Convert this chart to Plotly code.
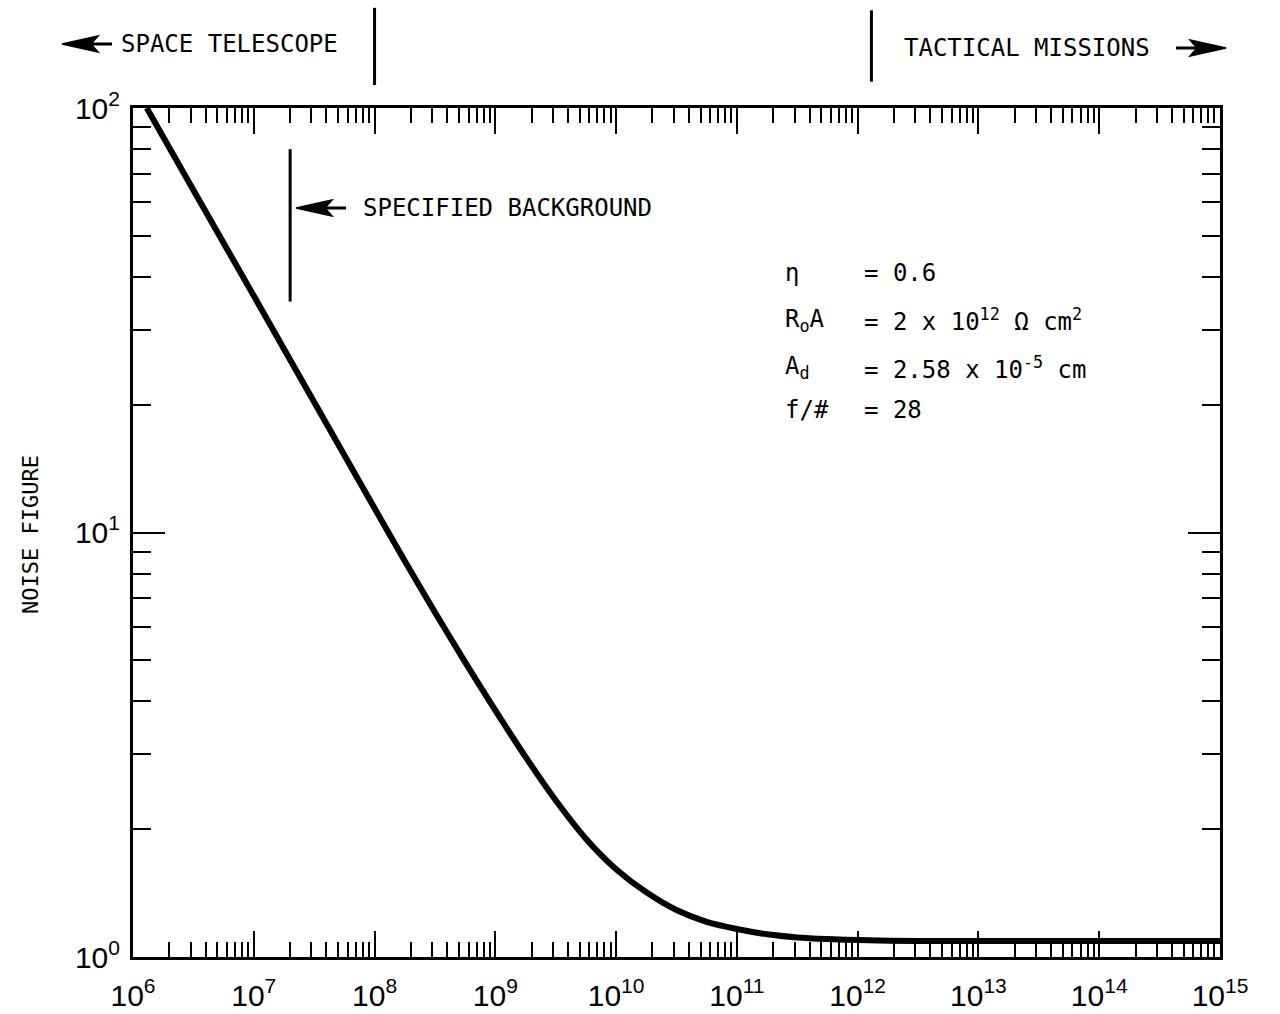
import plotly.graph_objects as go

# ---- data ----
flux = [1.3e6, 3.16e6, 1e7, 3.16e7, 1e8, 1.78e8, 3.16e8, 5.62e8, 1e9, 1.78e9, 3.16e9,
        5.62e9, 1e10, 1.78e10, 3.16e10, 5.62e10, 1e11, 1.78e11, 3.16e11, 5.62e11, 1e12,
        3.16e12, 1e13, 1e14, 1e15]
noise_figure = [100, 64.1, 36.1, 20.3, 11.4, 8.57, 6.49, 4.95, 3.81, 2.96, 2.34,
                1.90, 1.61, 1.42, 1.29, 1.21, 1.164, 1.131, 1.112, 1.102, 1.096,
                1.091, 1.09, 1.09, 1.09]

x_decades = [1e6, 1e7, 1e8, 1e9, 1e10, 1e11, 1e12, 1e13, 1e14, 1e15]
x_ticktext = ["10<sup>6</sup>", "10<sup>7</sup>", "10<sup>8</sup>", "10<sup>9</sup>",
              "10<sup>10</sup>", "10<sup>11</sup>", "10<sup>12</sup>", "10<sup>13</sup>",
              "10<sup>14</sup>", "10<sup>15</sup>"]
y_decades = [1, 10, 100]
y_ticktext = ["10<sup>0</sup>", "10<sup>1</sup>", "10<sup>2</sup>"]
x_minor = [m * d for d in x_decades[:-1] for m in range(2, 10)]
y_minor = [m * d for d in y_decades[:-1] for m in range(2, 10)]

region_bounds = [1e8, 1.3e12]           # SPACE TELESCOPE | ... | TACTICAL MISSIONS
specified_background = 2e7
spec_bg_span = [35, 80]

param_names = ["η", "R<sub>o</sub>A", "A<sub>d</sub>", "f/#"]
param_values = ["= 0.6", "= 2 x 10<sup>12</sup> Ω cm<sup>2</sup>",
                "= 2.58 x 10<sup>-5</sup> cm", "= 28"]

MONO = "DejaVu Sans Mono"
SANS = "Liberation Sans"

# layout geometry (pixels)
W, H = 1280, 1014
ML, MR, MT, MB = 133, 60, 108, 57
PW, PH = W - ML - MR, H - MT - MB


def px(xp):
    return (xp - ML) / PW


def py(yp):
    return (H - MB - yp) / PH


fig = go.Figure()
fig.add_trace(go.Scatter(x=flux, y=noise_figure, mode="lines",
                         line=dict(color="black", width=6, shape="spline", smoothing=0.8),
                         showlegend=False, hoverinfo="skip"))

axis_common = dict(
    type="log", showgrid=False, zeroline=False,
    showline=True, linewidth=3, linecolor="black", mirror="ticks",
    ticks="inside", tickwidth=2, tickcolor="black",
    tickfont=dict(family=SANS, size=30, color="black"),
)
fig.update_xaxes(**axis_common, range=[6, 15], tickmode="array",
                 tickvals=x_decades, ticktext=x_ticktext, ticklen=26,
                 ticklabelstandoff=10,
                 minor=dict(tickmode="array", tickvals=x_minor, ticks="inside",
                            ticklen=15, tickwidth=2, tickcolor="black"))
fig.update_yaxes(**axis_common, range=[0, 2], tickmode="array",
                 tickvals=y_decades, ticktext=y_ticktext, ticklen=32,
                 ticklabelstandoff=4,
                 minor=dict(tickmode="array", tickvals=y_minor, ticks="inside",
                            ticklen=18, tickwidth=2, tickcolor="black"))

# region boundary lines above the plot
line_tops = [1.118, 1.115]
line_bots = [1.027, 1.031]
for xb, yt, yb in zip(region_bounds, line_tops, line_bots):
    fig.add_shape(type="line", xref="x", yref="paper", x0=xb, x1=xb, y0=yb, y1=yt,
                  line=dict(color="black", width=3))

# specified background marker
fig.add_shape(type="line", xref="x", yref="y", x0=specified_background, x1=specified_background,
              y0=spec_bg_span[0], y1=spec_bg_span[1], line=dict(color="black", width=3))


def arrow(tip_x, y, direction):
    """Filled arrowhead with a short tail; direction -1 points left, +1 right."""
    d = -direction
    back = tip_x + d * 36
    notch = tip_x + d * 29
    tail = tip_x + d * 50
    path = (f"M {px(tip_x)},{py(y)} L {px(back)},{py(y - 8)} L {px(notch)},{py(y)} "
            f"L {px(back)},{py(y + 8)} Z")
    fig.add_shape(type="path", xref="paper", yref="paper", path=path,
                  fillcolor="black", line=dict(color="black", width=1.5))
    fig.add_shape(type="line", xref="paper", yref="paper", x0=px(tip_x + d * 10), x1=px(tail),
                  y0=py(y), y1=py(y), line=dict(color="black", width=3))


arrow(62, 44, -1)
arrow(1226, 48, +1)
arrow(296, 208, -1)

ann_font = dict(family=MONO, size=24, color="black")
annotations = [
    dict(text="SPACE TELESCOPE", xref="paper", yref="paper", x=px(119), y=py(44),
         xanchor="left", yanchor="middle", showarrow=False, font=ann_font),
    dict(text="TACTICAL MISSIONS", xref="paper", yref="paper", x=px(902), y=py(48),
         xanchor="left", yanchor="middle", showarrow=False, font=ann_font),
    dict(text="SPECIFIED BACKGROUND", xref="paper", yref="paper", x=px(361), y=py(208),
         xanchor="left", yanchor="middle", showarrow=False, font=ann_font),
    dict(text="NOISE FIGURE", xref="paper", yref="paper", x=px(30), y=py(535),
         textangle=-90, showarrow=False, xanchor="center", yanchor="middle",
         font=dict(family=MONO, size=22, color="black")),
]
row_y = [273, 320, 368, 410]
for name, val, yy in zip(param_names, param_values, row_y):
    annotations.append(dict(text=name, xref="paper", yref="paper", x=px(783), y=py(yy),
                            xanchor="left", yanchor="middle", showarrow=False, font=ann_font))
    annotations.append(dict(text=val, xref="paper", yref="paper", x=px(862), y=py(yy),
                            xanchor="left", yanchor="middle", showarrow=False, font=ann_font))

fig.update_layout(
    width=W, height=H,
    margin=dict(l=ML, r=MR, t=MT, b=MB, autoexpand=False),
    paper_bgcolor="white", plot_bgcolor="white",
    annotations=annotations,
    showlegend=False,
)

fig.write_html("out.html")
